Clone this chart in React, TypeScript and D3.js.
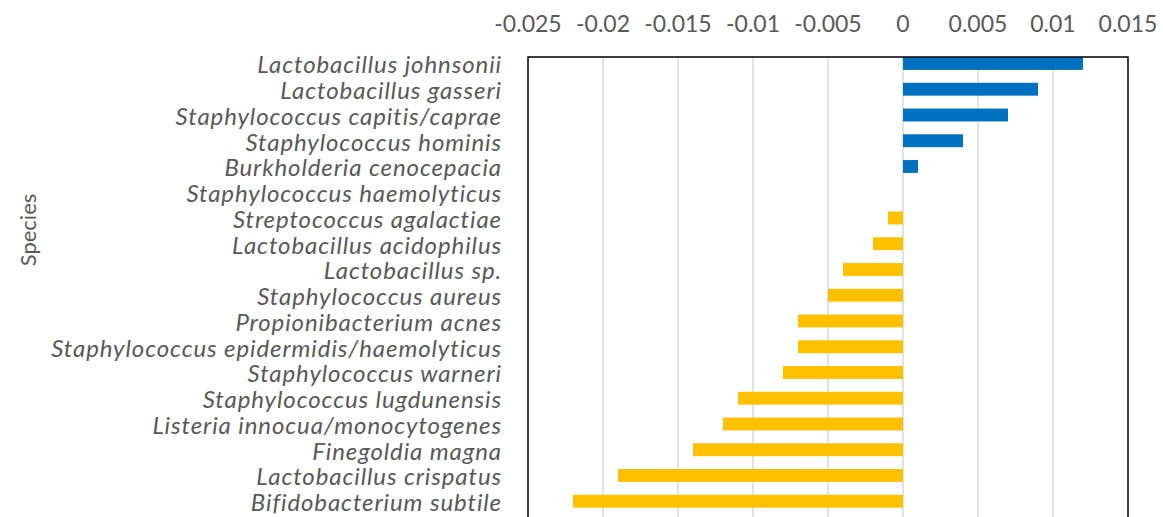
import { useEffect, useRef } from "react";
import * as d3 from "d3";

const species = [
  "Lactobacillus johnsonii",
  "Lactobacillus gasseri",
  "Staphylococcus capitis/caprae",
  "Staphylococcus hominis",
  "Burkholderia cenocepacia",
  "Staphylococcus haemolyticus",
  "Streptococcus agalactiae",
  "Lactobacillus acidophilus",
  "Lactobacillus sp.",
  "Staphylococcus aureus",
  "Propionibacterium acnes",
  "Staphylococcus epidermidis/haemolyticus",
  "Staphylococcus warneri",
  "Staphylococcus lugdunensis",
  "Listeria innocua/monocytogenes",
  "Finegoldia magna",
  "Lactobacillus crispatus",
  "Bifidobacterium subtile",
];

const values = [
  0.012, 0.009, 0.007, 0.004, 0.001, 0, -0.001, -0.002, -0.004, -0.005,
  -0.007, -0.007, -0.008, -0.011, -0.012, -0.014, -0.019, -0.022,
];

const xTicks = [-0.025, -0.02, -0.015, -0.01, -0.005, 0, 0.005, 0.01, 0.015];

export default function App() {
  const svgRef = useRef<SVGSVGElement>(null);

  useEffect(() => {
    if (!svgRef.current) return;
    const svg = d3.select(svgRef.current);
    svg.selectAll("*").remove();

    const left = 528;
    const right = 1128;
    const top = 57;
    const bottom = 540;
    const font = "Lato, 'Open Sans', sans-serif";

    const x = d3.scaleLinear().domain([-0.025, 0.015]).range([left, right]);
    const y = d3
      .scaleBand()
      .domain(species)
      .range([50.6, 514.1])
      .paddingInner(0.5)
      .paddingOuter(0.25);

    // Grid
    svg
      .append("g")
      .selectAll("line")
      .data(xTicks.slice(1, -1))
      .join("line")
      .attr("x1", (d) => x(d))
      .attr("x2", (d) => x(d))
      .attr("y1", top)
      .attr("y2", bottom)
      .attr("stroke", "#d9d9d9")
      .attr("stroke-width", 1.5);

    // Bars
    svg
      .append("g")
      .selectAll("rect")
      .data(species)
      .join("rect")
      .attr("x", (d, i) => x(Math.min(0, values[i])))
      .attr("y", (d) => y(d)!)
      .attr("width", (d, i) => Math.abs(x(values[i]) - x(0)))
      .attr("height", y.bandwidth())
      .attr("fill", (d, i) => (values[i] > 0 ? "#0070C0" : "#FFC000"));

    // Plot border
    svg
      .append("rect")
      .attr("x", left)
      .attr("y", top)
      .attr("width", right - left)
      .attr("height", bottom - top)
      .attr("fill", "none")
      .attr("stroke", "#000")
      .attr("stroke-width", 1.5);

    // Top axis labels
    svg
      .append("g")
      .selectAll("text")
      .data(xTicks)
      .join("text")
      .attr("x", (d) => x(d))
      .attr("y", 32)
      .attr("text-anchor", "middle")
      .style("font-family", font)
      .style("font-size", "23px")
      .style("fill", "#595959")
      .text((d) => String(d));

    // Category labels
    svg
      .append("g")
      .selectAll("text")
      .data(species)
      .join("text")
      .attr("x", 502)
      .attr("y", (d) => y(d)! + y.bandwidth() / 2 + 1.5)
      .attr("dy", "0.35em")
      .attr("text-anchor", "end")
      .style("font-family", font)
      .style("font-style", "italic")
      .style("font-size", "24px")
      .style("letter-spacing", "0.9px")
      .style("fill", "#595959")
      .text((d) => d);

    // Axis title
    svg
      .append("text")
      .attr("transform", "translate(28,230) rotate(-90)")
      .attr("text-anchor", "middle")
      .attr("dy", "0.35em")
      .style("font-family", font)
      .style("font-size", "22px")
      .style("fill", "#595959")
      .text("Species");
  }, []);

  return (
    <svg
      ref={svgRef}
      width={1163}
      height={517}
      style={{ position: "absolute", left: 0, top: 0, background: "#fff" }}
    />
  );
}
